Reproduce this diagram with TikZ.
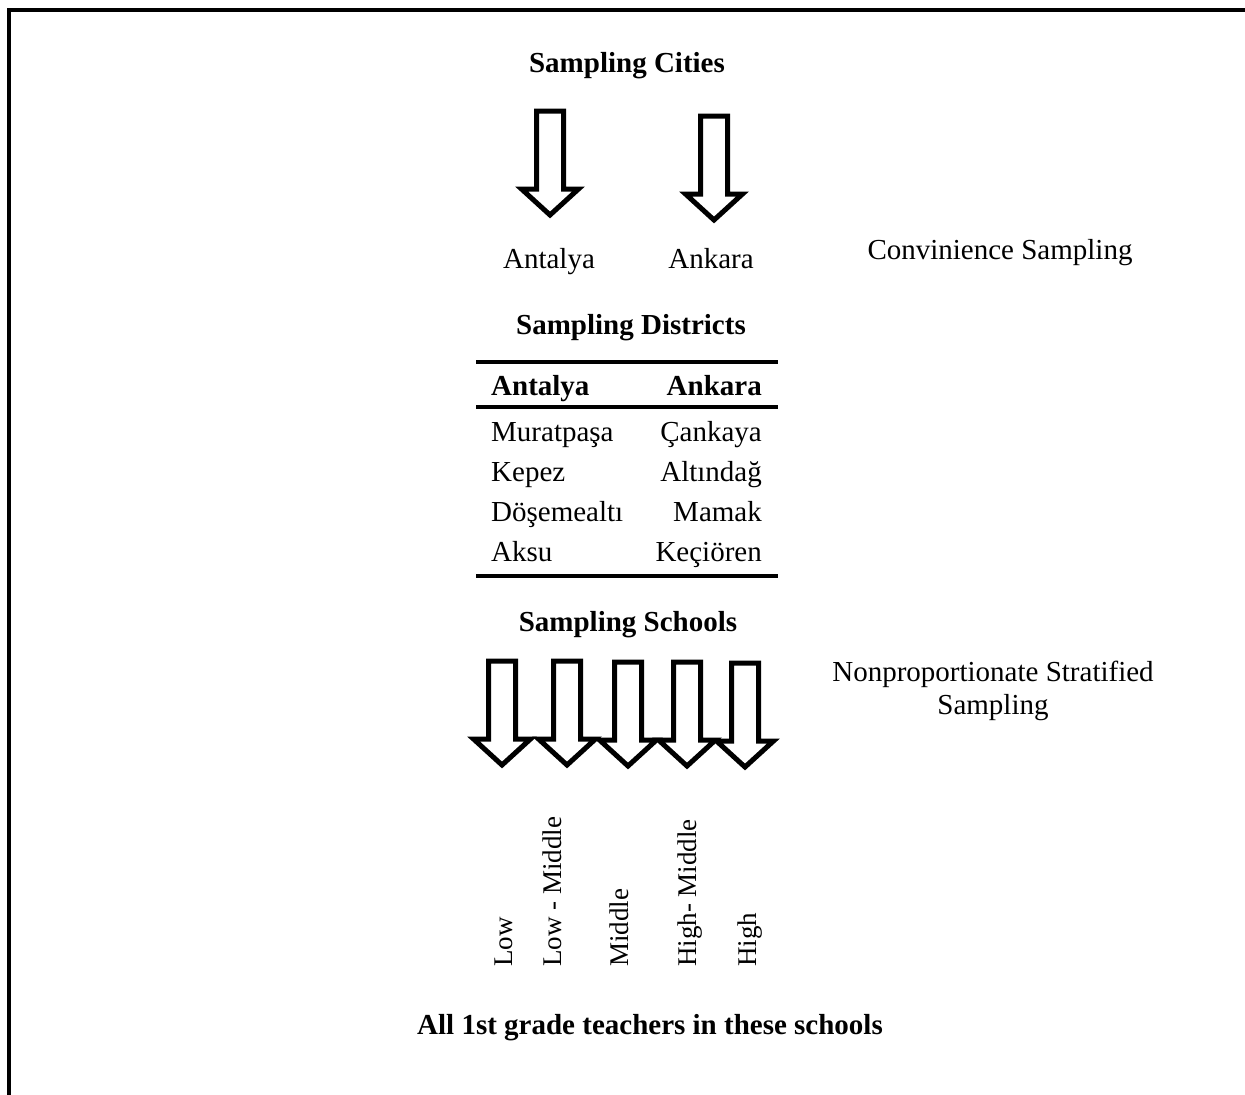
\documentclass[tikz,border=0pt]{standalone}
\usepackage{fontspec}
\setmainfont{Liberation Serif}
\begin{document}
\begin{tikzpicture}[x=1pt,y=-1pt,
  txt/.style={inner sep=0pt, font=\fontsize{29}{33}\selectfont},
  bld/.style={inner sep=0pt, font=\fontsize{29}{33}\selectfont\bfseries},
  rot/.style={inner sep=0pt, font=\fontsize{27}{31}\selectfont, rotate=90, anchor=base west},
  rulestyle/.style={line width=4pt},
  harrow/.pic={\draw[line width=5pt, fill=white, miter limit=10]
     (-13.5,0) -- (13.5,0) -- (13.5,78) -- (28.5,78) -- (0,104) -- (-28.5,78) -- (-13.5,78) -- cycle;}
]
\useasboundingbox (0,0) rectangle (1245,1095);
% frame
\draw[line width=4pt] (9,1095) -- (9,10) -- (1245,10);

% Sampling cities
\node[bld, anchor=base] (cities) at (627,72) {Sampling Cities};
\pic at (550,111) {harrow};
\pic at (714,116) {harrow};
\node[txt, anchor=base] (antalya) at (549,268) {Antalya};
\node[txt, anchor=base] (ankara) at (711,268) {Ankara};
\node[txt, anchor=base] (conv) at (1000,259) {Convinience Sampling};

% Sampling districts
\node[bld, anchor=base] (districts) at (631,334) {Sampling Districts};
\draw[rulestyle] (476,362) -- (778,362);
\draw[rulestyle] (476,407) -- (778,407);
\draw[rulestyle] (476,576) -- (778,576);
\node[bld, anchor=base west] (hA) at (491,395) {Antalya};
\node[bld, anchor=base east] (hB) at (762,395) {Ankara};
\node[txt, anchor=base west] (a1) at (491,441) {Muratpaşa};
\node[txt, anchor=base west] (a2) at (491,481) {Kepez};
\node[txt, anchor=base west] (a3) at (491,521) {Döşemealtı};
\node[txt, anchor=base west] (a4) at (491,561) {Aksu};
\node[txt, anchor=base east] (b1) at (762,441) {Çankaya};
\node[txt, anchor=base east] (b2) at (762,481) {Altındağ};
\node[txt, anchor=base east] (b3) at (762,521) {Mamak};
\node[txt, anchor=base east] (b4) at (762,561) {Keçiören};

% Sampling schools
\node[bld, anchor=base] (schools) at (628,631) {Sampling Schools};
\pic at (502,661) {harrow};
\pic at (567,661) {harrow};
\pic at (628,662) {harrow};
\pic at (687,662) {harrow};
\pic at (745,663) {harrow};
\node[txt, anchor=base, align=center] (nonprop) at (993,714) {Nonproportionate Stratified\\Sampling};

\node[rot] (low) at (512,967) {Low};
\node[rot] (lowmid) at (561,967) {Low - Middle};
\node[rot] (mid) at (628,967) {Middle};
\node[rot] (highmid) at (696,967) {High- Middle};
\node[rot] (high) at (756,967) {High};

\node[bld, anchor=base] (all) at (650,1034) {All 1st grade teachers in these schools};
\end{tikzpicture}
\end{document}
